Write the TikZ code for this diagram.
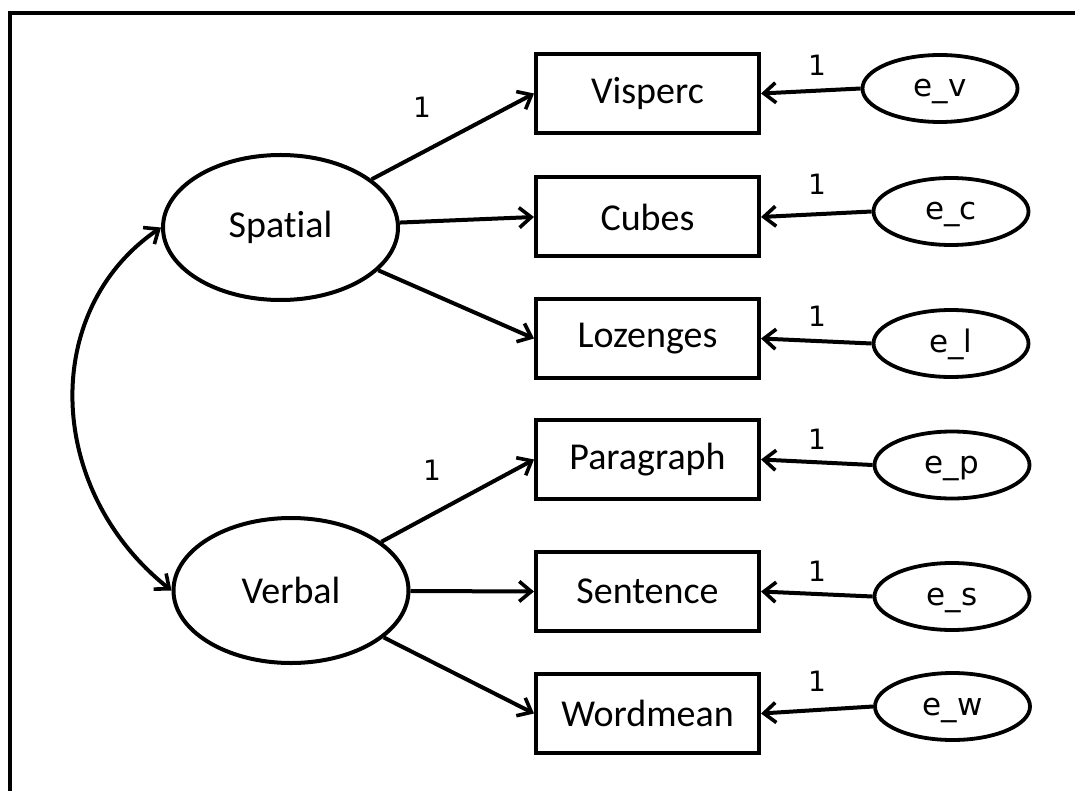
\documentclass[tikz,border=0pt]{standalone}
\usepackage{fontspec}
\setmainfont[Ligatures=NoCommon]{Carlito}
\newfontfamily\errfont{DejaVu Sans}
\usetikzlibrary{shapes.geometric,arrows.meta}
\begin{document}
\begin{tikzpicture}[x=1pt,y=-1pt,
  lat/.style={ellipse, draw, line width=4pt, minimum width=235pt, minimum height=145pt, inner sep=0pt, font=\fontsize{38}{44}\selectfont},
  obs/.style={rectangle, draw, line width=4pt, minimum width=223pt, minimum height=79pt, inner sep=0pt, font=\fontsize{38}{44}\selectfont},
  errnode/.style={ellipse, draw, line width=3.8pt, minimum width=155pt, minimum height=67pt, inner sep=0pt, text height=17pt, text depth=0pt, font=\errfont\fontsize{31}{36}\selectfont},
  onelab/.style={inner sep=0pt, font=\errfont\fontsize{28}{32}\selectfont},
  tip/.style={},
  arr/.style={line width=4pt, -{Straight Barb[length=12pt,width=20pt,line width=3.6pt]}},
  frame/.style={line width=4pt}
]
\useasboundingbox (0,0) rectangle (1075,791);
\draw[frame] (10,793) -- (10,13) -- (1077,13);

% latent factors
\node[lat] (spatial) at (280.5,227.5) {Spatial};
\node[lat] (verbal) at (291,590.5) {Verbal};

% observed
\node[obs] (visperc) at (647.5,93.5) {Visperc};
\node[obs] (cubes) at (647.5,217) {Cubes};
\node[obs] (lozenges) at (647.5,338.5) {Lozenges};
\node[obs] (paragraph) at (647.5,459.5) {Paragraph};
\node[obs] (sentence) at (647.5,591.5) {Sentence};
\node[obs] (wordmean) at (647.5,713.5) {Wordmean};

% errors
\node[errnode] (ev) at (940,88.5) {e\_v};
\node[errnode] (ec) at (951,211.5) {e\_c};
\node[errnode] (el) at (951,343.5) {e\_l};
\node[errnode] (ep) at (952,465) {e\_p};
\node[errnode] (es) at (952,596.5) {e\_s};
\node[errnode] (ew) at (952.5,706.5) {e\_w};

% loadings
\draw[arr] (spatial) -- (visperc.west);
\draw[arr] (spatial) -- (cubes.west);
\draw[arr] (spatial) -- (lozenges.west);
\draw[arr] (verbal) -- (paragraph.west);
\draw[arr] (verbal) -- (sentence.west);
\draw[arr] (verbal) -- (wordmean.west);

% error paths
\draw[arr] (ev.west) -- (visperc.east);
\draw[arr] (ec.west) -- (cubes.east);
\draw[arr] (el.west) -- (lozenges.east);
\draw[arr] (ep.west) -- (paragraph.east);
\draw[arr] (es.west) -- (sentence.east);
\draw[arr] (ew.west) -- (wordmean.east);

% covariance
\draw[line width=4pt, {Straight Barb[length=12pt,width=20pt,line width=3.6pt]}-{Straight Barb[length=12pt,width=20pt,line width=3.6pt]}]
  (spatial.west) .. controls (40,310) and (45,490) .. (verbal.west);

% labels
\node[onelab] (l1) at (422,107) {1};
\node[onelab] (l2) at (432,470) {1};
\node[onelab] (l3) at (817,65) {1};
\node[onelab] (l4) at (817,184) {1};
\node[onelab] (l5) at (817,316) {1};
\node[onelab] (l6) at (817,439) {1};
\node[onelab] (l7) at (817,571) {1};
\node[onelab] (l8) at (817,681) {1};
\end{tikzpicture}
\end{document}
